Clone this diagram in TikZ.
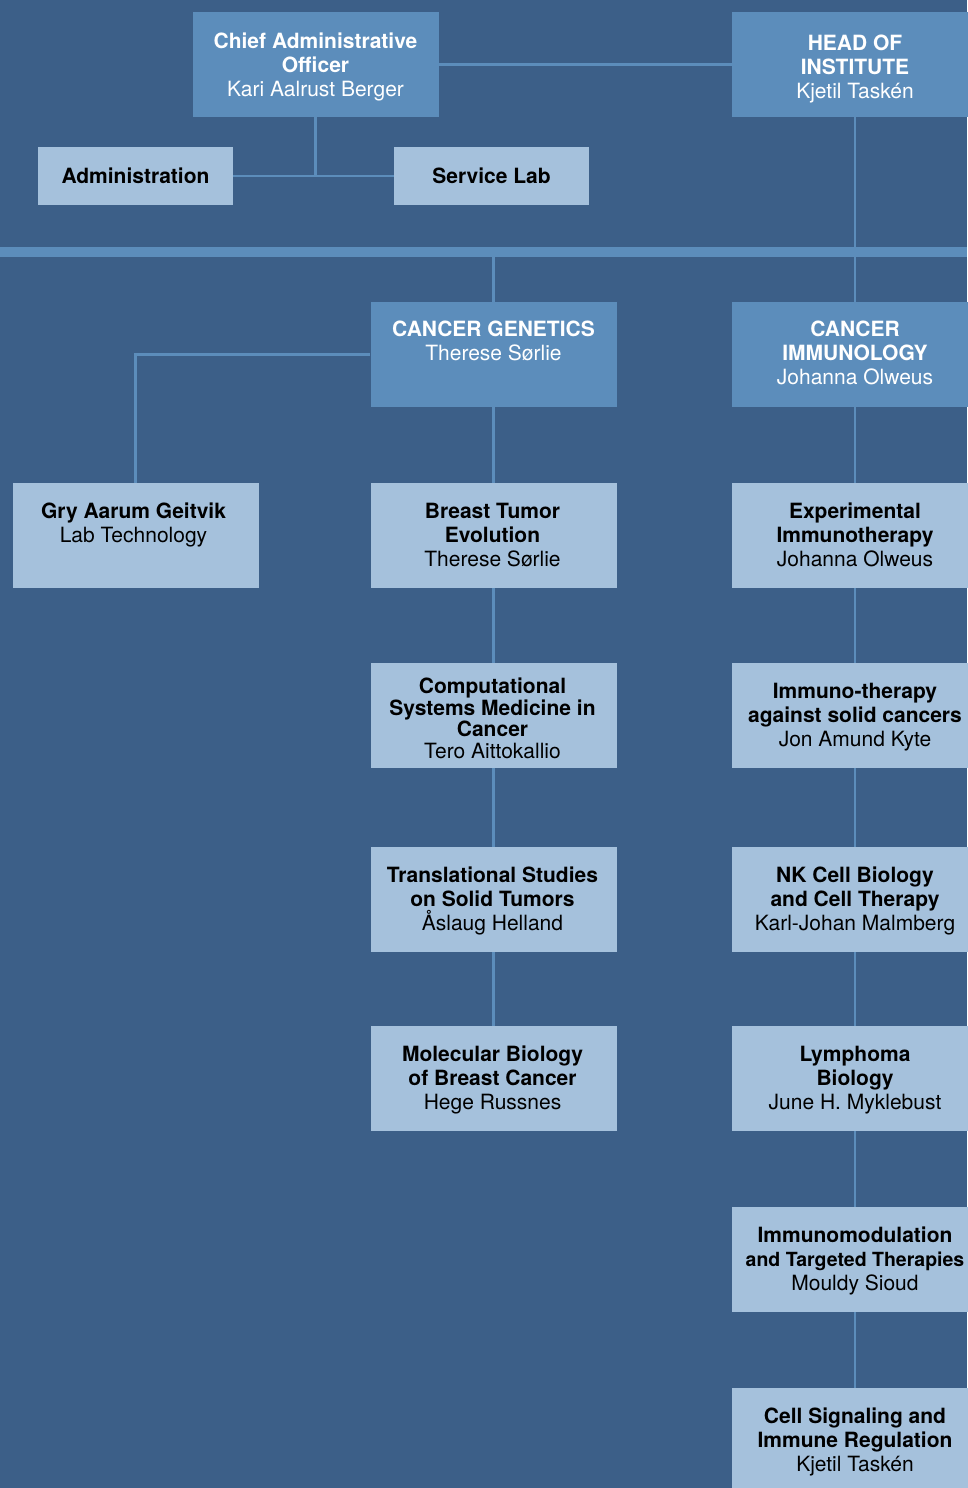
\documentclass[tikz,border=0pt]{standalone}
\usepackage{fontspec}
\setmainfont{TeX Gyre Heros}
\usetikzlibrary{positioning}
\definecolor{bgblue}{HTML}{3C5F88}
\definecolor{midblue}{HTML}{5C8DBB}
\definecolor{lightblue}{HTML}{A5C1DC}

\begin{document}
\begin{tikzpicture}[x=1pt,y=-1pt]
\tikzset{
  headbox/.style={rectangle,fill=midblue,draw=none,minimum width=246pt,minimum height=105pt,inner sep=0pt},
  unitbox/.style={rectangle,fill=lightblue,draw=none,minimum width=246pt,minimum height=105pt,inner sep=0pt},
  smallbox/.style={unitbox,minimum width=195pt,minimum height=58pt,font=\fontsize{21}{24}\selectfont\bfseries},
  boxtext/.style={align=center,inner sep=0pt,font=\fontsize{21}{24}\selectfont},
  whitetext/.style={boxtext,text=white},
  orgedge/.style={draw=midblue,line width=2.5pt}
}
\useasboundingbox (0,0) rectangle (967,1488);
\fill[bgblue] (0,0) rectangle (967,1488);
% top level
\node[headbox] (n_cao) at (315.5,64.5) {};
\node[headbox] (n_head) at (855,64.5) {};
\node[smallbox] (n_admin) at (135.5,176) {Administration};
\node[smallbox] (n_slab) at (491.5,176) {Service Lab};
\node[rectangle,fill=midblue,minimum width=967pt,minimum height=10pt,inner sep=0pt] (n_band) at (483.5,252) {};
% departments
\node[headbox] (n_cg) at (493.5,354.5) {};
\node[headbox] (n_ci) at (855,354.5) {};
% groups
\node[unitbox] (n_gry) at (135.5,535.5) {};
\node[unitbox] (n_bte) at (493.5,535.5) {};
\node[unitbox] (n_csm) at (493.5,715.5) {};
\node[unitbox] (n_tst) at (493.5,899.5) {};
\node[unitbox] (n_mbb) at (493.5,1078.5) {};
\node[unitbox] (n_exi) at (855,535.5) {};
\node[unitbox] (n_ist) at (855,715.5) {};
\node[unitbox] (n_nkc) at (855,899.5) {};
\node[unitbox] (n_lym) at (855,1078.5) {};
\node[unitbox] (n_imt) at (855,1259.5) {};
\node[unitbox] (n_csi) at (855,1440.5) {};
% texts
\node[whitetext,below=21pt of n_cao.north] (t_cao) {\textbf{Chief Administrative}\\\textbf{Officer}\\Kari Aalrust Berger};
\node[whitetext,below=23pt of n_head.north] (t_head) {\textbf{HEAD OF}\\\textbf{INSTITUTE}\\Kjetil Taskén};
\node[whitetext,below=19pt of n_cg.north] (t_cg) {\textbf{CANCER GENETICS}\\Therese Sørlie};
\node[whitetext,below=19pt of n_ci.north] (t_ci) {\textbf{CANCER}\\\textbf{IMMUNOLOGY}\\Johanna Olweus};
\node[boxtext,below=20pt of n_gry.north,xshift=-2pt] (t_gry) {\textbf{Gry Aarum Geitvik}\\Lab Technology};
\node[boxtext,below=20pt of n_bte.north,xshift=-1pt] (t_bte) {\textbf{Breast Tumor}\\\textbf{Evolution}\\Therese Sørlie};
\node[boxtext,below=15pt of n_csm.north,xshift=-1pt,font=\fontsize{21}{21.5}\selectfont] (t_csm) {\textbf{Computational}\\\textbf{Systems Medicine in}\\\textbf{Cancer}\\Tero Aittokallio};
\node[boxtext,below=20pt of n_tst.north,xshift=-1pt] (t_tst) {\textbf{Translational Studies}\\\textbf{on Solid Tumors}\\Åslaug Helland};
\node[boxtext,below=20pt of n_mbb.north,xshift=-1pt] (t_mbb) {\textbf{Molecular Biology}\\\textbf{of Breast Cancer}\\Hege Russnes};
\node[boxtext,below=20pt of n_exi.north] (t_exi) {\textbf{Experimental}\\\textbf{Immunotherapy}\\Johanna Olweus};
\node[boxtext,below=20pt of n_ist.north] (t_ist) {\textbf{Immuno-therapy}\\\textbf{against solid cancers}\\Jon Amund Kyte};
\node[boxtext,below=20pt of n_nkc.north] (t_nkc) {\textbf{NK Cell Biology}\\\textbf{and Cell Therapy}\\Karl-Johan Malmberg};
\node[boxtext,below=20pt of n_lym.north] (t_lym) {\textbf{Lymphoma}\\\textbf{Biology}\\June H. Myklebust};
\node[boxtext,below=20pt of n_imt.north] (t_imt) {\textbf{Immunomodulation}\\{\fontsize{19.5}{24}\selectfont\textbf{and Targeted Therapies}}\\Mouldy Sioud};
\node[boxtext,below=20pt of n_csi.north] (t_csi) {\textbf{Cell Signaling and}\\\textbf{Immune Regulation}\\Kjetil Taskén};
% connectors
\draw[orgedge] (n_cao.east) -- (n_head.west);
\draw[orgedge] (n_cao.south) -- (n_cao.south |- n_admin.east);
\draw[orgedge] (n_admin.east) -- (n_slab.west);
\draw[orgedge] (n_head.south) -- (n_ci.north);
\draw[orgedge] (n_band.south -| n_cg.north) -- (n_cg.north);
\draw[orgedge] (n_cg.west) -- (n_gry.north |- n_cg.west) -- (n_gry.north);
\draw[orgedge] (n_cg) -- (n_bte);
\draw[orgedge] (n_bte) -- (n_csm);
\draw[orgedge] (n_csm) -- (n_tst);
\draw[orgedge] (n_tst) -- (n_mbb);
\draw[orgedge] (n_ci) -- (n_exi);
\draw[orgedge] (n_exi) -- (n_ist);
\draw[orgedge] (n_ist) -- (n_nkc);
\draw[orgedge] (n_nkc) -- (n_lym);
\draw[orgedge] (n_lym) -- (n_imt);
\draw[orgedge] (n_imt) -- (n_csi);
\end{tikzpicture}
\end{document}
